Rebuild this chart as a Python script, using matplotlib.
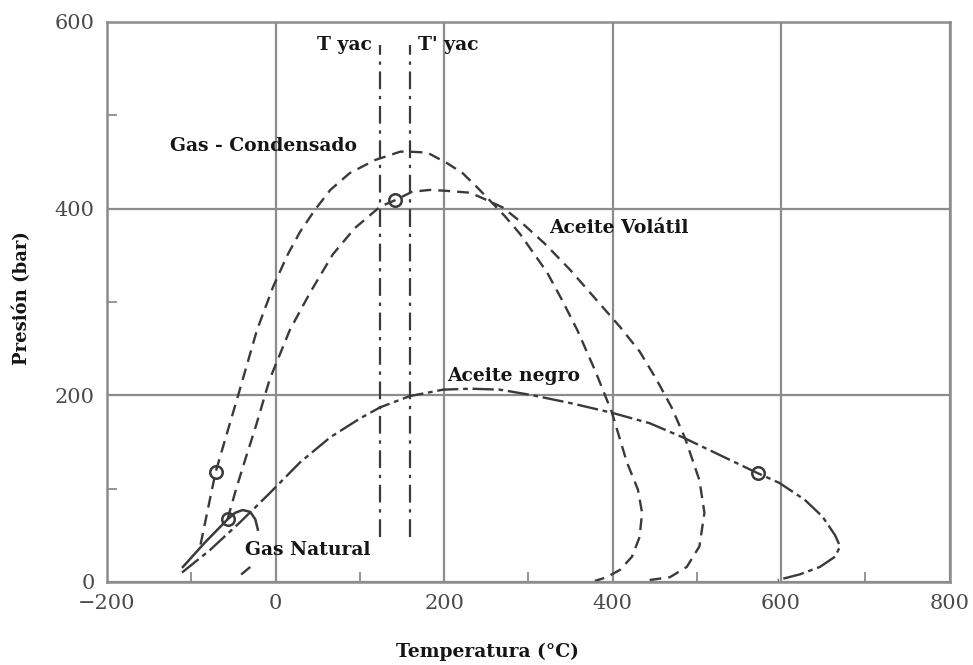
import matplotlib

matplotlib.use("Agg")
import matplotlib.pyplot as plt
from matplotlib.ticker import MultipleLocator

# Envolventes de fase (temperatura en °C, presión en bar)
gas_condensado_t = [-89, -78, -71, -60, -45, -22, -3, 14, 29, 47, 65, 88, 118,
                    148, 159, 180, 203, 222, 239, 254, 272, 290, 322, 340, 358,
                    379, 399, 417, 430, 435, 432, 423, 409, 393, 379]
gas_condensado_p = [40, 88, 118, 152, 198, 270, 316, 350, 375, 399, 420, 438,
                    452, 461, 461, 460, 449, 438, 423, 409, 392, 373, 332, 302,
                    270, 227, 182, 128, 99, 74, 48, 27, 13, 5, 1]

aceite_volatil_t = [-57, -47, -36, -23, -7, 17, 41, 68, 94, 124, 142, 162, 183,
                    203, 231, 251, 270, 292, 320, 350, 379, 409, 432, 452, 470,
                    486, 503, 509, 503, 488, 468, 444]
aceite_volatil_p = [67, 99, 131, 168, 217, 270, 310, 351, 379, 402, 409, 418,
                    420, 419, 417, 409, 401, 385, 362, 334, 304, 273, 247, 217,
                    187, 154, 109, 74, 38, 16, 5, 2]

aceite_negro_t = [-111, -78, -42, -7, 29, 65, 100, 124, 159, 199, 231, 266, 305,
                  353, 400, 444, 483, 527, 571, 598, 628, 649, 664, 670, 664,
                  646, 622, 596]
aceite_negro_p = [10, 34, 64, 95, 128, 155, 175, 187, 199, 206, 207, 206, 200,
                  191, 181, 170, 155, 136, 117, 106, 88, 70, 50, 38, 27, 16, 8, 2]

gas_natural_t = [-110, -84, -57, -48, -39, -30, -24, -21]
gas_natural_p = [16, 42, 67, 74, 77, 75, 67, 56]
gas_natural_cola_t = [-30, -46]
gas_natural_cola_p = [16, 4]

# Puntos críticos
critico_t = [-71, -57, 142, 572]
critico_p = [118, 67, 409, 117]

# Temperaturas de yacimiento
t_yac = [124, 160]
yac_p = [48, 575]

ink = "#3a3a3a"
grid_gray = "#8c8c8c"

fig, ax = plt.subplots(figsize=(9.73, 6.65), dpi=100)
fig.subplots_adjust(left=0.110, right=0.976, bottom=0.125, top=0.967)

ax.set_xlim(-200, 800)
ax.set_ylim(0, 600)
ax.xaxis.set_major_locator(MultipleLocator(200))
ax.yaxis.set_major_locator(MultipleLocator(200))
ax.xaxis.set_minor_locator(MultipleLocator(100))
ax.yaxis.set_minor_locator(MultipleLocator(100))
ax.grid(True, which="major", color=grid_gray, linewidth=1.6)
ax.set_axisbelow(True)
for side in ax.spines.values():
    side.set_color(grid_gray)
    side.set_linewidth(1.8)
ax.tick_params(which="major", length=0, pad=9, labelsize=15, labelcolor="#4a4a4a")
ax.tick_params(which="minor", direction="in", length=7, width=1.3, color=grid_gray)
for lab in ax.get_xticklabels() + ax.get_yticklabels():
    lab.set_family("DejaVu Serif")

dash_kw = dict(color=ink, linewidth=1.7, dashes=(5, 3))
ax.plot(gas_condensado_t, gas_condensado_p, **dash_kw)
ax.plot(aceite_volatil_t, aceite_volatil_p, **dash_kw)
ax.plot(aceite_negro_t, aceite_negro_p, color=ink, linewidth=1.7,
        dashes=(9, 2, 2, 2))
ax.plot(gas_natural_t, gas_natural_p, color=ink, linewidth=1.8)
ax.plot(gas_natural_cola_t, gas_natural_cola_p, **dash_kw)

for t in t_yac:
    ax.plot([t, t], yac_p, color=ink, linewidth=1.6, dashes=(8, 3, 1.5, 3))

ax.plot(critico_t, critico_p, linestyle="none", marker="o", markersize=9,
        markerfacecolor="none", markeredgecolor=ink, markeredgewidth=1.8)

label_kw = dict(family="DejaVu Serif", fontweight="bold", fontsize=13.5,
                color="#151515", ha="center", va="center")
ax.text(82, 575, "T yac", **label_kw)
ax.text(205, 575, "T' yac", **label_kw)
ax.text(-14, 467, "Gas - Condensado", **label_kw)
ax.text(407, 379, "Aceite Volátil", **label_kw)
ax.text(283, 221, "Aceite negro", **label_kw)
ax.text(38, 34, "Gas Natural", **label_kw)

ax.set_xlabel("Temperatura (°C)", family="DejaVu Serif", fontweight="bold",
              fontsize=13.5, color="#151515", va="center")
ax.xaxis.set_label_coords(0.452, -0.125)
ax.set_ylabel("Presión (bar)", family="DejaVu Serif", fontweight="bold",
              fontsize=13, color="#151515", va="center")
ax.yaxis.set_label_coords(-0.101, 0.507)

fig.savefig("out.png", dpi=100)
